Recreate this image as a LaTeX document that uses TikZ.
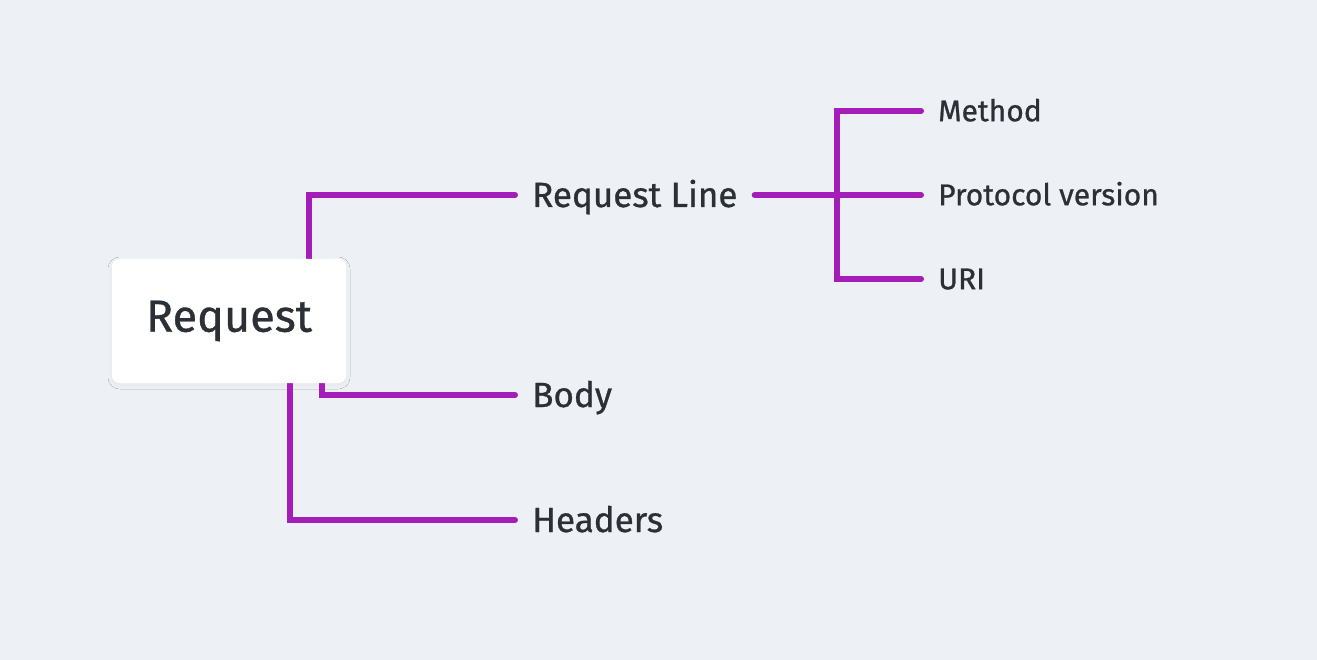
\documentclass[tikz,border=0pt]{standalone}
\usepackage{fontspec}
\setmainfont{Fira Sans}[FakeBold=0.8]
\usetikzlibrary{shadows.blur}
\definecolor{bg}{HTML}{EDF1F5}
\definecolor{pur}{HTML}{A51DB9}
\definecolor{ink}{HTML}{2B2F36}
\begin{document}
\begin{tikzpicture}[x=1pt,y=-1pt,
  conn/.style={draw=pur,line width=6pt,line cap=round,line join=miter},
  lbl/.style={anchor=west,inner sep=0pt,text=ink,text depth=0pt},
  big/.style={lbl,text height=24pt,font=\fontsize{35}{42}\selectfont},
  small/.style={lbl,text height=20.5pt,font=\fontsize{30}{36}\selectfont},
  box/.style={fill=white,rounded corners=8pt,minimum width=234pt,minimum height=124pt,inner sep=0pt,text=ink,font=\fontsize{45}{54}\selectfont},
  shad/.style={box,blur shadow={shadow blur steps=10,shadow xshift=0pt,shadow yshift=-2pt,shadow opacity=4,shadow blur radius=4pt}}]
\fill[bg] (0,0) rectangle (1317,660);
\useasboundingbox (0,0) rectangle (1317,660);
\coordinate (jl) at (837,195);
\node[big] (rl) at (532,195) {Request Line};
\node[big] (body) at (532,395) {Body};
\node[big] (hd) at (532,520) {Headers};
\node[small] (me) at (938,111) {Method};
\node[small] (pv) at (938,195) {Protocol version};
\node[small] (ur) at (938,279) {URI};
\node[shad] (req) at (229,321) {};
\draw[conn] ([xshift=80pt]req.center) |- ([xshift=-17pt]rl.west);
\draw[conn] ([xshift=93pt]req.center) |- ([xshift=-17pt]body.west);
\draw[conn] ([xshift=61pt]req.center) |- ([xshift=-17pt]hd.west);
\node[box] (req2) at (req.center) {Request};
\draw[conn] ([xshift=17pt]rl.east) -- ([xshift=-17pt]pv.west);
\draw[conn] ([xshift=-17pt]me.west) -| (jl |- ur.west) -- ([xshift=-17pt]ur.west);
\end{tikzpicture}
\end{document}
